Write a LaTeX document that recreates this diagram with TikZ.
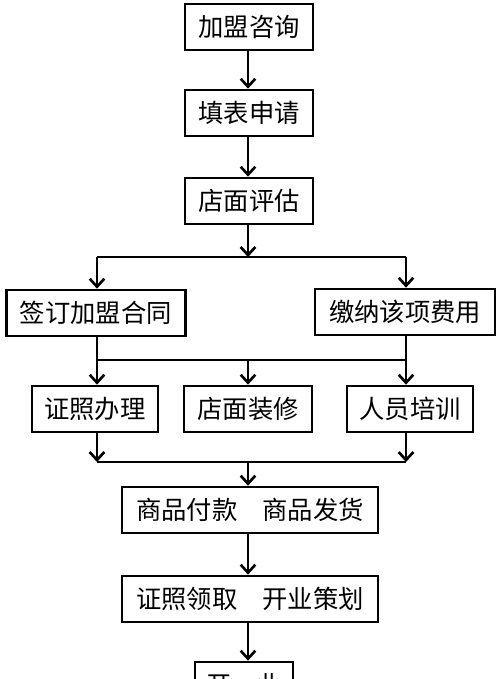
\documentclass[tikz,border=0pt]{standalone}
\usepackage{fontspec}
\newfontfamily\cjk{Noto Sans CJK SC}
\usetikzlibrary{arrows.meta,positioning}

\begin{document}
\begin{tikzpicture}[x=0.75pt,y=-0.75pt,
    box/.style={draw,line width=2pt,minimum height=34.5pt,inner sep=0pt,font=\cjk\fontsize{19}{19}\selectfont},
    arr/.style={line width=2pt,-{Straight Barb[length=6pt,width=11pt,line width=2pt]}},
    link/.style={line width=2pt}]
    \useasboundingbox (0,0) rectangle (500,679);

    \node[box,minimum width=96pt] (jm) at (249,27) {加盟咨询};
    \node[box,minimum width=96pt] (tb) at (249,113) {填表申请};
    \node[box,minimum width=96pt] (pg) at (249,201) {店面评估};

    \node[box,minimum width=134pt] (qd) at (96,313) {签订加盟合同};
    \node[box,minimum width=135pt] (jn) at (405,312) {缴纳该项费用};

    \node[box,minimum width=94.5pt] (zz) at (95,409) {证照办理};
    \node[box,minimum width=96pt] (zx) at (248,409) {店面装修};
    \node[box,minimum width=94.5pt] (px) at (410,409) {人员培训};

    \node[box,minimum width=192pt] (fk) at (250,510) {商品付款　商品发货};
    \node[box,minimum width=192pt] (lq) at (250,599) {证照领取　开业策划};
    \node[box,minimum width=73.5pt] (ky) at (244,685) {开　业};

    % branch and merge points
    \coordinate (s1l) at (97,257);
    \coordinate (s1c) at (248,257);
    \coordinate (s1r) at (406,257);
    \coordinate (m1l) at (97,360);
    \coordinate (m1c) at (248,360);
    \coordinate (m1r) at (406,360);
    \coordinate (m2l) at (97,462);
    \coordinate (m2c) at (248,462);
    \coordinate (m2r) at (406,462);

    \foreach \from/\to in {jm/tb,tb/pg,fk/lq,lq/ky}
    \draw[arr] (\from.south -| s1c) -- (\to.north -| s1c);

    % split after evaluation
    \draw[arr] (pg.south -| s1c) -- (s1c);
    \draw[link] (s1l) -- (s1r);
    \draw[arr] (s1l) -- (s1l |- qd.north);
    \draw[arr] (s1r) -- (s1r |- jn.north);

    % contract and fees join
    \draw[link] (qd.south -| m1l) -- (m1l) -- (m1r) -- (jn.south -| m1r);
    \foreach \to/\at in {zz/m1l,zx/m1c,px/m1r}
    \draw[arr] (\at) -- (\at |- \to.north);

    % three tasks join
    \draw[arr] (zz.south -| m2l) -- (m2l);
    \draw[arr] (px.south -| m2r) -- (m2r);
    \draw[link] (m2l) -- (m2r);
    \draw[arr] (m2c) -- (m2c |- fk.north);

  \end{tikzpicture}
\end{document}
